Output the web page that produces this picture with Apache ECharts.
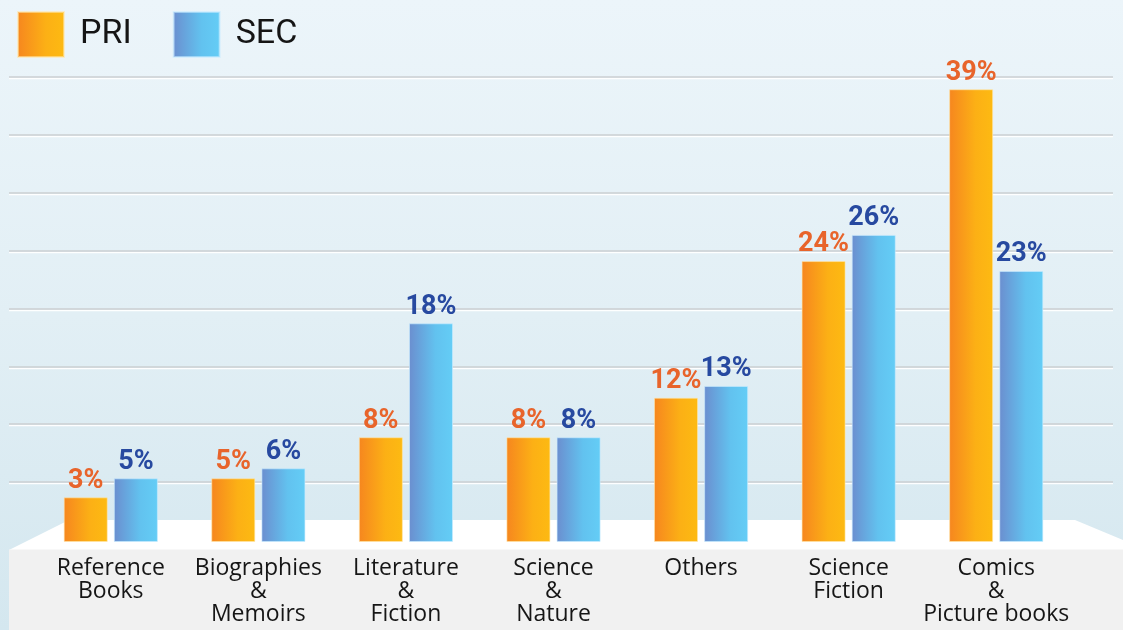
<!DOCTYPE html>
<html>
<head>
<meta charset="utf-8">
<script src="https://cdn.jsdelivr.net/npm/echarts@6/dist/echarts.min.js"></script>
<style>
html,body{margin:0;padding:0;}
#chart{width:1123px;height:630px;background:linear-gradient(to bottom,#ecf5fa 0%,#e2eff5 50%,#d4e7ef 100%);}
</style>
</head>
<body>
<div id="chart"></div>
<script>
const categories = ['Reference\nBooks','Biographies\n&\nMemoirs','Literature\n&\nFiction','Science\n&\nNature','Others','Science\nFiction','Comics\n&\nPicture books'];
const seriesNames = ['PRI','SEC'];
// bar heights
const priValues = [3.85, 5.49, 9.03, 9.03, 12.44, 24.22, 39.03];
const secValues = [5.49, 6.35, 18.85, 9.03, 13.45, 26.47, 23.36];
// printed value labels
const priLabels = [3, 5, 8, 8, 12, 24, 39];
const secLabels = [5, 6, 18, 8, 13, 26, 23];
const gridLineSteps = [0, 1, 2, 3, 4, 5, 6, 7];

const chart = echarts.init(document.getElementById('chart'), null, {renderer:'canvas'});

const priGrad = new echarts.graphic.LinearGradient(0,0,1,0,[{offset:0,color:'#f6861f'},{offset:0.6,color:'#fcb015'},{offset:1,color:'#fdba12'}]);
const secGrad = new echarts.graphic.LinearGradient(0,0,1,0,[{offset:0,color:'#6b8ecf'},{offset:0.6,color:'#62c2ef'},{offset:1,color:'#64cdf6'}]);

const labelFont = {fontFamily:'Roboto', fontWeight:'bold', fontSize:27};

chart.setOption({
  animation:false,
  backgroundColor:'transparent',
  legend:{
    left:17, top:11, padding:0,
    itemWidth:46, itemHeight:45, itemGap:41,
    icon:'rect',
    data:[{name:'PRI', itemStyle:{color:priGrad}},{name:'SEC', itemStyle:{color:secGrad}}],
    textStyle:{fontFamily:'Roboto', fontSize:34, color:'#151515', padding:[0,0,0,11]}
  },
  grid:[
    {left:37, right:53, top:78, bottom:88},
    {left:9, right:10, top:77, bottom:148}
  ],
  xAxis:[
    {type:'category', gridIndex:0, data:categories, z:5,
     axisLine:{show:false}, axisTick:{show:false},
     axisLabel:{interval:0, margin:15, fontFamily:'"Open Sans"', fontSize:23, lineHeight:23, color:'#161616'}},
    {type:'value', gridIndex:1, show:false}
  ],
  yAxis:[
    {type:'value', gridIndex:0, min:0, max:40, show:false, splitLine:{show:false}},
    {type:'value', gridIndex:1, inverse:true, min:gridLineSteps[0], max:gridLineSteps[gridLineSteps.length-1], interval:1,
     axisLine:{show:false}, axisTick:{show:false}, axisLabel:{show:false},
     splitLine:{show:true, lineStyle:{color:'#cbcfd2', width:1.5, shadowColor:'rgba(255,255,255,0.95)', shadowOffsetY:1.5, shadowBlur:0}}}
  ],
  graphic:{elements:[
    {type:'polygon', z:1, silent:true,
     shape:{points:[[9,550],[69,520],[1075,520],[1123,540],[1123,550]]},
     style:{fill:'#ffffff'}},
    {type:'rect', z:1, silent:true,
     shape:{x:9, y:549.5, width:1114, height:81},
     style:{fill:'#f1f1f1'}}
  ]},
  series:[
    {name:seriesNames[0], type:'bar', xAxisIndex:0, yAxisIndex:0, data:priValues, z:3,
     barWidth:44, barGap:'14%',
     itemStyle:{color:priGrad, borderColor:'rgba(255,230,170,0.6)', borderWidth:1},
     label:{show:true, position:'top', distance:3, color:'#e8642b', ...labelFont,
            formatter:p=>priLabels[p.dataIndex]+'%'}},
    {name:seriesNames[1], type:'bar', xAxisIndex:0, yAxisIndex:0, data:secValues, z:3,
     barWidth:44, barGap:'14%',
     itemStyle:{color:secGrad, borderColor:'rgba(200,235,255,0.6)', borderWidth:1},
     label:{show:true, position:'top', distance:3, color:'#2749a0', ...labelFont,
            formatter:p=>secLabels[p.dataIndex]+'%'}}
  ]
});
</script>
</body>
</html>
